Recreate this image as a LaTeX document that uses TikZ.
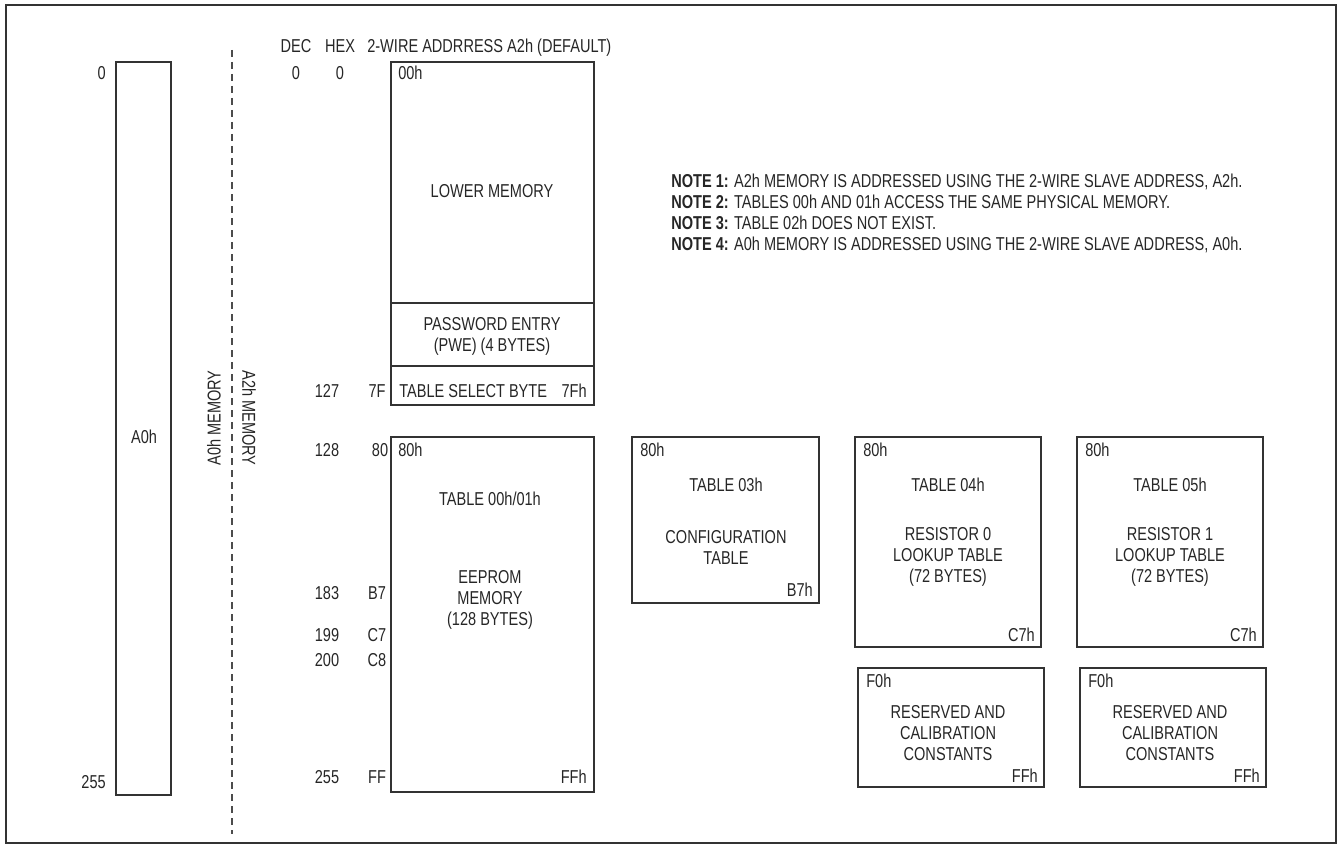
\documentclass[tikz,border=0pt]{standalone}
\usepackage{fontspec}
\setmainfont{Liberation Sans}[FakeStretch=0.78]
\usetikzlibrary{fit}
\begin{document}
\begin{tikzpicture}[x=0.75pt,y=-0.75pt,
  every node/.style={font=\fontsize{14}{15.75}\selectfont, text=black!85, inner sep=0pt},
  box/.style={draw=black!80, line width=0.9pt, inner sep=0pt},
  t/.style={anchor=base},
  tl/.style={anchor=base west},
  tr/.style={anchor=base east},
  ml/.style={align=center, anchor=center}]
\useasboundingbox (0,0) rectangle (1343,849);
\node[box, fit={(6,5) (1336,843)}] (frame) {};
% A0h bar
\node[box, fit={(116,62) (171,795)}] (a0bar) {};
\node[tr] (a0top) at (106,80) {0};
\node[tr] (a0bot) at (106,788) {255};
\node[t] (a0lbl) at (144,443) {A0h};
% dashed divider
\coordinate (dtop) at (232,50);
\coordinate (dbot) at (232,834);
\draw[black!70, line width=0.9pt, dash pattern=on 5pt off 4pt] (dtop) -- (dbot);
\node[rotate=90] (a0mem) at (214,418) {A0h MEMORY};
\node[rotate=-90] (a2mem) at (249,418) {A2h MEMORY};
% headers
\node[t] (dec) at (296,53) {DEC};
\node[t] (hex) at (340,53) {HEX};
\node[tl] (title) at (367,53) {2-WIRE ADDRRESS A2h (DEFAULT)};
\node[t] (d0) at (296,80) {0};
\node[t] (h0) at (340,80) {0};
\node[t] (d127) at (327,397) {127};
\node[t] (h7f) at (377,397) {7F};
\node[t] (d128) at (327,456) {128};
\node[t] (h80) at (380,456) {80};
\node[t] (d183) at (327,599) {183};
\node[t] (hb7) at (377,599) {B7};
\node[t] (d199) at (327,641) {199};
\node[t] (hc7) at (377,641) {C7};
\node[t] (d200) at (327,666) {200};
\node[t] (hc8) at (377,666) {C8};
\node[t] (d255) at (327,783) {255};
\node[t] (hff) at (377,783) {FF};
% lower memory
\node[box, fit={(391,62) (594,405)}] (lower) {};
\node[box, fit={(391,303) (594,366)}] (pwe) {};
\node[box, fit={(391,366) (594,405)}] (tsb) {};
\node[tl] at (398,80) {00h};
\node[t] at (492,197) {LOWER MEMORY};
\node[ml] at (492,336) {PASSWORD ENTRY\\(PWE) (4 BYTES)};
\node[tl] at (399,397) {TABLE SELECT BYTE};
\node[tr] at (587,397) {7Fh};
% table 00h/01h
\node[box, fit={(391,437) (594,792)}] (t00) {};
\node[tl] at (398,456) {80h};
\node[t] at (490,505) {TABLE 00h/01h};
\node[ml] at (490,600) {EEPROM\\MEMORY\\(128 BYTES)};
\node[tr] at (587,783) {FFh};
% table 03h
\node[box, fit={(632,437) (819,603)}] (t03) {};
\node[tl] at (640,456) {80h};
\node[t] at (726,491) {TABLE 03h};
\node[ml] at (726,547) {CONFIGURATION\\TABLE};
\node[tr] at (813,596) {B7h};
% table 04h
\node[box, fit={(855,437) (1041,647)}] (t04) {};
\node[tl] at (863,456) {80h};
\node[t] at (948,491) {TABLE 04h};
\node[ml] at (948,557) {RESISTOR 0\\LOOKUP TABLE\\(72 BYTES)};
\node[tr] at (1035,641) {C7h};
% table 05h
\node[box, fit={(1077,437) (1263,647)}] (t05) {};
\node[tl] at (1085,456) {80h};
\node[t] at (1170,491) {TABLE 05h};
\node[ml] at (1170,557) {RESISTOR 1\\LOOKUP TABLE\\(72 BYTES)};
\node[tr] at (1257,641) {C7h};
% reserved
\node[box, fit={(858,668) (1044,787)}] (r04) {};
\node[tl] at (866,687) {F0h};
\node[ml] at (948,733) {RESERVED AND\\CALIBRATION\\CONSTANTS};
\node[tr] at (1038,782) {FFh};
\node[box, fit={(1080,668) (1266,787)}] (r05) {};
\node[tl] at (1088,687) {F0h};
\node[ml] at (1170,733) {RESERVED AND\\CALIBRATION\\CONSTANTS};
\node[tr] at (1260,782) {FFh};
% notes
\node[tl] (n1) at (671,187) {\textbf{NOTE 1:} A2h MEMORY IS ADDRESSED USING THE 2-WIRE SLAVE ADDRESS, A2h.};
\node[tl] (n2) at (671,208) {\textbf{NOTE 2:} TABLES 00h AND 01h ACCESS THE SAME PHYSICAL MEMORY.};
\node[tl] (n3) at (671,229) {\textbf{NOTE 3:} TABLE 02h DOES NOT EXIST.};
\node[tl] (n4) at (671,250) {\textbf{NOTE 4:} A0h MEMORY IS ADDRESSED USING THE 2-WIRE SLAVE ADDRESS, A0h.};
\end{tikzpicture}
\end{document}
